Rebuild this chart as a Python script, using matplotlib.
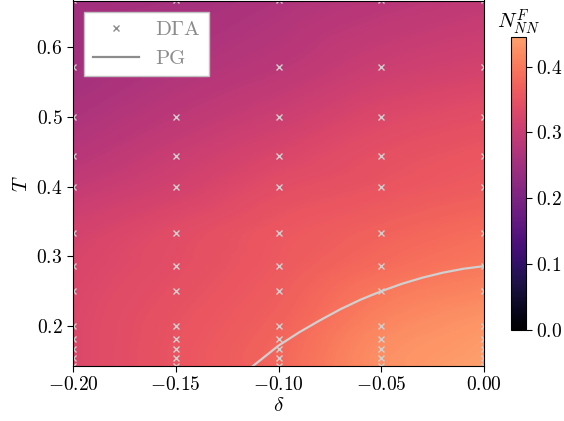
import numpy as np
import matplotlib
matplotlib.use("Agg")
import matplotlib.pyplot as plt
import matplotlib.tri as mtri
from matplotlib.colors import ListedColormap
from matplotlib.lines import Line2D

plt.rcParams['font.family'] = 'serif'
plt.rcParams['font.serif'] = ['cmr10']
plt.rcParams['mathtext.fontset'] = 'cm'
plt.rcParams['axes.formatter.use_mathtext'] = True
plt.rcParams['axes.unicode_minus'] = True

# ---- data ----
delta = [-0.20, -0.15, -0.10, -0.05, 0.00]
temps = [1/7, 1/6.5, 1/6, 1/5.5, 1/5, 1/4, 1/3.5, 1/3, 1/2.5, 1/2.25, 1/2, 1/1.75, 1/1.5]
# N^F_NN values; rows follow temps, columns follow delta
nnf = [
    [0.330, 0.353, 0.378, 0.425, 0.445],
    [0.330, 0.353, 0.379, 0.425, 0.442],
    [0.330, 0.353, 0.378, 0.423, 0.440],
    [0.330, 0.352, 0.376, 0.420, 0.438],
    [0.330, 0.351, 0.373, 0.414, 0.434],
    [0.328, 0.346, 0.366, 0.398, 0.414],
    [0.325, 0.342, 0.361, 0.384, 0.400],
    [0.318, 0.338, 0.357, 0.372, 0.386],
    [0.296, 0.316, 0.340, 0.353, 0.364],
    [0.281, 0.304, 0.326, 0.345, 0.356],
    [0.267, 0.287, 0.307, 0.330, 0.342],
    [0.254, 0.270, 0.285, 0.306, 0.318],
    [0.251, 0.256, 0.268, 0.281, 0.292],
]
pg_delta = [-0.1124, -0.10, -0.09, -0.08, -0.07, -0.06, -0.05, -0.04, -0.03, -0.02, -0.01, 0.00]
pg_temp = [0.1429, 0.172, 0.191, 0.208, 0.224, 0.238, 0.250, 0.2606, 0.2694, 0.2766, 0.2822, 0.286]
vmin, vmax = 0.0, 0.445
cbar_ticks = [0.0, 0.1, 0.2, 0.3, 0.4]

# ---- figure ----
fig = plt.figure(figsize=(5.64, 4.21), dpi=100)
ax = fig.add_axes([73/564, 1-366/421, 411/564, 365.5/421])
cax = fig.add_axes([511/564, 1-330/421, 15/564, 293/421])

cmap = ListedColormap(plt.cm.magma(np.linspace(0, 0.8, 256)))

D, Tm = np.meshgrid(delta, temps)
Z = np.array(nnf)
tri = mtri.Triangulation(D.ravel(), Tm.ravel())
interp = mtri.CubicTriInterpolator(tri, Z.ravel(), kind='geom')
xf = np.linspace(delta[0], delta[-1], 300)
yf = np.linspace(temps[0], temps[-1], 300)
XF, YF = np.meshgrid(xf, yf)
ZF = interp(XF, YF)
im = ax.imshow(ZF, origin='lower', aspect='auto', cmap=cmap, vmin=vmin, vmax=vmax,
               extent=[delta[0], delta[-1], temps[0], temps[-1]], interpolation='bilinear')

ax.plot(D.ravel(), Tm.ravel(), ls='none', marker='x', color='#d0d0d0', ms=5, mew=1.0)
ax.plot(pg_delta, pg_temp, color='#d0d0d0', lw=1.6)

ax.set_xlim(delta[0], delta[-1])
ax.set_ylim(temps[0], temps[-1])
ax.set_xticks([-0.20, -0.15, -0.10, -0.05, 0.00])
ax.set_xticklabels([r'$-0.20$', r'$-0.15$', r'$-0.10$', r'$-0.05$', r'$0.00$'])
ax.set_yticks([0.2, 0.3, 0.4, 0.5, 0.6])
ax.set_yticklabels([r'$0.2$', r'$0.3$', r'$0.4$', r'$0.5$', r'$0.6$'])
ax.tick_params(labelsize=14, length=4)
ax.set_xlabel(r'$\delta$', fontsize=15, labelpad=2)
ax.set_ylabel(r'$T$', fontsize=15, labelpad=4)

handles = [Line2D([], [], ls='none', marker='x', color='#8c8c8c', ms=4.5, mew=1.0),
           Line2D([], [], color='#8c8c8c', lw=1.6)]
leg = ax.legend(handles, [r'D$\Gamma$A', 'PG'], loc='upper left', fontsize=15,
                labelcolor='#8c8c8c', fancybox=False, framealpha=1, edgecolor='#c0c0c0',
                handlelength=2.2, borderaxespad=0.55)

cb = fig.colorbar(im, cax=cax, ticks=cbar_ticks)
cb.ax.set_yticklabels([r'$0.0$', r'$0.1$', r'$0.2$', r'$0.3$', r'$0.4$'])
cb.ax.tick_params(labelsize=14, length=4)
cb.ax.set_title(r'$N^F_{NN}$', fontsize=15, pad=4)

fig.savefig('out.png', dpi=100)
